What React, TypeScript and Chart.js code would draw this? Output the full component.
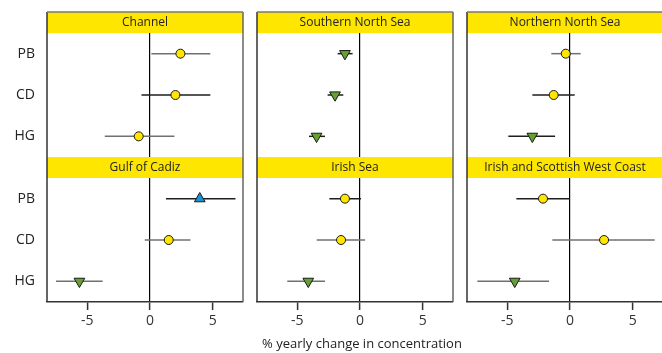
import React, { useEffect, useRef } from "react";
import { Chart, registerables } from "chart.js";

Chart.register(...registerables);

// ---- data ----
const categories = ["PB", "CD", "HG"];
const xTicks = [-5, 0, 5];
const xTitle = "% yearly change in concentration";

const regionNames = [
  "Channel",
  "Southern North Sea",
  "Northern North Sea",
  "Gulf of Cadiz",
  "Irish Sea",
  "Irish and Scottish West Coast",
];

// estimate, lower and upper bound per category (PB, CD, HG)
const channelEst = [2.42, 2.02, -0.9];
const channelLow = [0.11, -0.68, -3.6];
const channelHigh = [4.8, 4.8, 1.94];
const channelTrend = ["none", "none", "none"];
const channelTone = ["grey", "dark", "grey"];

const southernEst = [-1.2, -1.99, -3.46];
const southernLow = [-1.78, -2.58, -4.06];
const southernHigh = [-0.59, -1.33, -2.79];
const southernTrend = ["down", "down", "down"];
const southernTone = ["dark", "dark", "dark"];

const northernEst = [-0.34, -1.3, -3.0];
const northernLow = [-1.49, -3.0, -4.91];
const northernHigh = [0.85, 0.37, -1.19];
const northernTrend = ["none", "none", "down"];
const northernTone = ["grey", "dark", "dark"];

const cadizEst = [3.96, 1.49, -5.62];
const cadizLow = [1.27, -0.42, -7.48];
const cadizHigh = [6.8, 3.22, -3.77];
const cadizTrend = ["up", "none", "down"];
const cadizTone = ["dark", "grey", "grey"];

const irishEst = [-1.2, -1.51, -4.12];
const irishLow = [-2.44, -3.45, -5.79];
const irishHigh = [0.08, 0.4, -2.79];
const irishTrend = ["none", "none", "down"];
const irishTone = ["dark", "grey", "grey"];

const westEst = [-2.15, 2.71, -4.4];
const westLow = [-4.27, -1.41, -7.38];
const westHigh = [0.0, 6.74, -1.67];
const westTrend = ["none", "none", "down"];
const westTone = ["dark", "grey", "grey"];

const panelEst = [channelEst, southernEst, northernEst, cadizEst, irishEst, westEst];
const panelLow = [channelLow, southernLow, northernLow, cadizLow, irishLow, westLow];
const panelHigh = [channelHigh, southernHigh, northernHigh, cadizHigh, irishHigh, westHigh];
const panelTrend = [channelTrend, southernTrend, northernTrend, cadizTrend, irishTrend, westTrend];
const panelTone = [channelTone, southernTone, northernTone, cadizTone, irishTone, westTone];

// ---- styles ----
const FONT = "'Open Sans', 'Noto Sans', sans-serif";
const YELLOW = "#FFE600";
const GREEN = "#64A132";
const BLUE = "#1E8FCF";
const TEXT = "#222";
const X_MIN = -8.2;
const X_MAX = 7.4;

type PanelProps = { index: number };

const COL_LEFT = [0, 255, 465];
const COL_WIDTH = [245, 200, 200];

function Panel({ index }: PanelProps) {
  const ref = useRef<HTMLCanvasElement | null>(null);
  const col = index % 3;
  const row = Math.floor(index / 3);
  const width = COL_WIDTH[col];
  const height = row === 0 ? 157 : 196;

  useEffect(() => {
    const canvas = ref.current;
    if (!canvas) return;
    const est = panelEst[index];
    const low = panelLow[index];
    const high = panelHigh[index];
    const trend = panelTrend[index];
    const tone = panelTone[index];

    const barDatasets = categories.map((c, i) => ({
      label: c + " range",
      data: [
        { x: low[i], y: i },
        { x: high[i], y: i },
      ],
      showLine: true,
      borderColor: tone[i] === "dark" ? "#1e1e1e" : "#707070",
      borderWidth: 1.5,
      pointRadius: 0,
      order: 2,
    }));

    const markerDataset = {
      label: "estimate",
      data: categories.map((c, i) => ({ x: est[i], y: i })),
      pointStyle: trend.map((t) => (t === "none" ? "circle" : "triangle")),
      rotation: trend.map((t) => (t === "down" ? 180 : 0)),
      pointRadius: trend.map((t) => (t === "none" ? 4.5 : 6.2)),
      pointBackgroundColor: trend.map((t) =>
        t === "none" ? YELLOW : t === "down" ? GREEN : BLUE
      ),
      pointBorderColor: "#1a1a1a",
      pointBorderWidth: 1,
      order: 0,
    };

    const framePlugin = {
      id: "frame" + index,
      beforeDraw(chart: any) {
        const tb = chart.titleBlock;
        const ctx = chart.ctx;
        ctx.save();
        ctx.fillStyle = YELLOW;
        ctx.fillRect(tb.left, tb.top, tb.width, tb.height);
        ctx.restore();
      },
      afterDraw(chart: any) {
        const ca = chart.chartArea;
        const tb = chart.titleBlock;
        const ctx = chart.ctx;
        ctx.save();
        ctx.lineWidth = 1.5;
        const top = row === 0 ? tb.top : 0;
        const bottom = ca.bottom;
        ctx.strokeStyle = "#333";
        ctx.beginPath();
        ctx.moveTo(ca.left, top);
        ctx.lineTo(ca.left, bottom);
        ctx.stroke();
        ctx.strokeStyle = "#666";
        ctx.beginPath();
        ctx.moveTo(ca.right, top);
        ctx.lineTo(ca.right, bottom);
        ctx.stroke();
        if (row === 0) {
          ctx.strokeStyle = "#777";
          ctx.beginPath();
          ctx.moveTo(ca.left, tb.top);
          ctx.lineTo(ca.right, tb.top);
          ctx.stroke();
        }
        ctx.restore();
      },
    };

    const chart = new Chart(canvas, {
      type: "scatter",
      data: { datasets: [...barDatasets, markerDataset] as any },
      plugins: [framePlugin],
      options: {
        responsive: false,
        animation: false,
        devicePixelRatio: 1,
        layout: {
          autoPadding: false,
          padding: {
            top: row === 0 ? 12 : 0,
            left: col === 0 ? 0 : 2,
            right: 2,
            bottom: 0,
          },
        },
        plugins: {
          legend: { display: false },
          tooltip: { enabled: false },
          title: {
            display: true,
            text: regionNames[index],
            fullSize: false,
            color: TEXT,
            font: { family: FONT, size: 12, weight: "normal", lineHeight: 1.25 },
            padding: { top: 3, bottom: 3 },
          },
        },
        scales: {
          x: {
            type: "linear",
            min: X_MIN,
            max: X_MAX,
            afterBuildTicks: (s: any) => {
              s.ticks = xTicks.map((v) => ({ value: v }));
            },
            afterFit: (s: any) => {
              s.height = row === 0 ? 0 : 51;
              s.paddingLeft = 0;
              s.paddingRight = 0;
            },
            grid: {
              display: true,
              drawTicks: row === 1,
              tickLength: 8,
              tickWidth: 1.5,
              tickColor: "#333",
              lineWidth: 1.2,
              color: (ctx: any) =>
                ctx.tick && ctx.tick.value === 0 ? "#000" : "rgba(0,0,0,0)",
            },
            border: { display: row === 1, color: "#333", width: 1.5 },
            ticks: {
              display: row === 1,
              padding: 3,
              color: "#333",
              font: { family: FONT, size: 14 },
              maxRotation: 0,
            },
          },
          y: {
            type: "linear",
            min: -0.5,
            max: 2.5,
            reverse: true,
            display: col === 0,
            afterBuildTicks: (s: any) => {
              s.ticks = categories.map((c, i) => ({ value: i }));
            },
            afterFit: (s: any) => {
              s.width = col === 0 ? 47 : 0;
              s.paddingTop = 0;
              s.paddingBottom = 0;
            },
            grid: { display: false },
            border: { display: false },
            ticks: {
              padding: 4,
              color: TEXT,
              font: { family: FONT, size: 14 },
              callback: (v: any) => categories[Math.round(Number(v))] ?? "",
            },
          },
        },
      } as any,
    });
    return () => chart.destroy();
  }, [index]);

  return (
    <canvas
      ref={ref}
      width={width}
      height={height}
      style={{
        position: "absolute",
        left: COL_LEFT[col],
        top: row === 0 ? 0 : 157,
        width,
        height,
      }}
    />
  );
}

export default function App() {
  return (
    <div
      style={{
        position: "absolute",
        left: 0,
        top: 0,
        width: 662,
        height: 353,
        overflow: "hidden",
        background: "#fff",
      }}
    >
      {regionNames.map((_, i) => (
        <Panel key={i} index={i} />
      ))}
      <div
        style={{
          position: "absolute",
          left: 212,
          top: 334,
          width: 300,
          textAlign: "center",
          fontFamily: FONT,
          fontSize: 13,
          lineHeight: "18px",
          color: TEXT,
        }}
      >
        {xTitle}
      </div>
    </div>
  );
}
